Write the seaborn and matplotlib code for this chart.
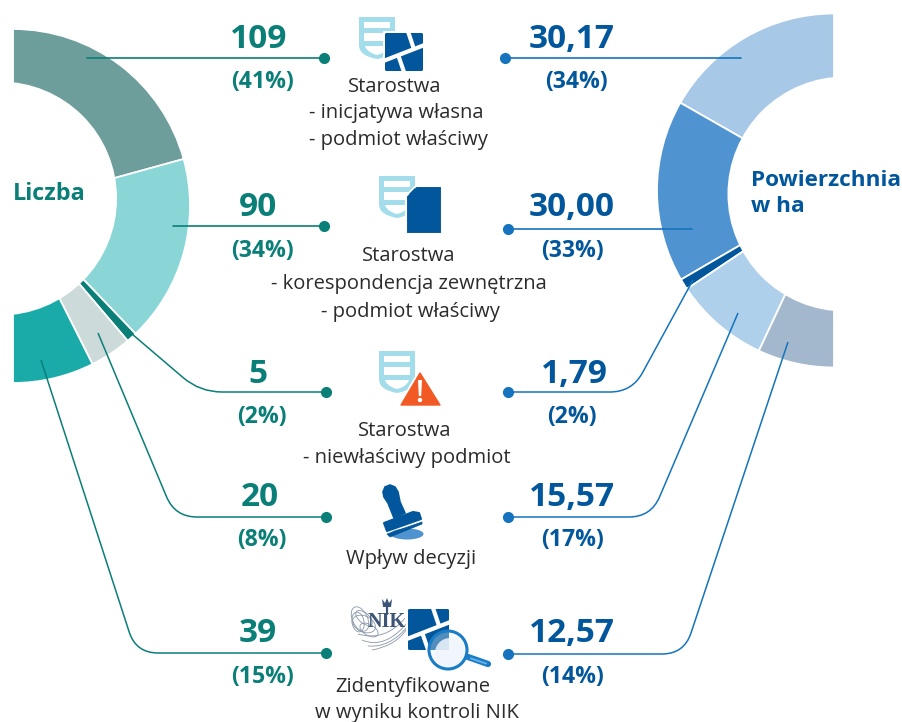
import matplotlib
matplotlib.use("Agg")
import matplotlib.pyplot as plt
import numpy as np
import seaborn as sns
from matplotlib.patches import Circle, Ellipse, FancyBboxPatch, PathPatch, Polygon, Rectangle
from matplotlib.path import Path

count_values = [109, 90, 5, 20, 39]
count_pct = ["(41%)", "(34%)", "(2%)", "(8%)", "(15%)"]
area_values = [30.17, 30.00, 1.79, 15.57, 12.57]
area_pct = ["(34%)", "(33%)", "(2%)", "(17%)", "(14%)"]
count_colors = ["#6d9e9b", "#8ad5d6", "#0a7f78", "#ccdada", "#1aaba9"]
area_colors = ["#a7c8e7", "#4f93d0", "#02579c", "#aed0ea", "#a3b8cd"]
captions = [
    ["Starostwa", "- inicjatywa własna", "- podmiot właściwy"],
    ["Starostwa", "- korespondencja zewnętrzna", "- podmiot właściwy"],
    ["Starostwa", "- niewłaściwy podmiot"],
    ["Wpływ decyzji"],
    ["Zidentyfikowane", "w wyniku kontroli NIK"],
]

TEAL = "#0a7f78"
BLUE = "#02579c"
LINE_BLUE = "#1574bd"
DARK = "#2b2b2b"
SHIELD = "#a3dcea"

sns.set_theme(style="white")
plt.rcParams["font.family"] = ["Open Sans", "DejaVu Sans"]

fig = plt.figure(figsize=(9.02, 7.22), dpi=100)
ax = fig.add_axes([0, 0, 1, 1])


def half_donut(values, colors, center, radius, hole_center, hole_radius, clockwise):
    # second half of the pie stays hidden, only the half ring is shown
    wedges, _ = ax.pie(list(values) + [sum(values)], colors=colors + ["white"],
                       center=center, radius=radius, startangle=-90,
                       counterclock=clockwise, frame=True,
                       wedgeprops={"edgecolor": "white", "linewidth": 1.3})
    wedges[-1].set_visible(False)
    ax.add_patch(Circle(hole_center, hole_radius, fc="white", ec="none", zorder=2))


half_donut(count_values, count_colors, (13, 206), 177, (0, 198.5), 117, True)
half_donut(area_values, area_colors, (834, 190.5), 177, (845, 194), 117.5, False)

# y axis runs down so everything below is in image pixels
ax.set_xlim(0, 902)
ax.set_ylim(722, 0)
ax.set_aspect("equal")
ax.axis("off")


def leader(start, corner, end, color, before=22, after=22):
    s, c, e = np.array(start, float), np.array(corner, float), np.array(end, float)
    a = c + (s - c) / np.linalg.norm(s - c) * before
    b = c + (e - c) / np.linalg.norm(e - c) * after
    path = Path([s, a, c, b, e], [Path.MOVETO, Path.LINETO, Path.CURVE3, Path.CURVE3, Path.LINETO])
    ax.add_patch(PathPatch(path, fc="none", ec=color, lw=1.1, zorder=4))
    ax.plot(*end, "o", color=color, ms=7, zorder=5)


def straight(start, end, color):
    ax.plot([start[0], end[0]], [start[1], end[1]], color=color, lw=1.2, zorder=4)
    ax.plot(*end, "o", color=color, ms=7, zorder=5)


straight((87, 58), (324, 58), TEAL)
straight((173, 226), (324, 226), TEAL)
leader((132, 334), (200, 392), (326, 392), TEAL)
leader((98, 333), (175, 517), (326, 517), TEAL)
leader((41, 360), (136, 653), (326, 653), TEAL)
straight((741, 58), (505, 58), LINE_BLUE)
straight((692, 229), (508, 229), LINE_BLUE)
leader((693, 280), (632, 392), (508, 392), LINE_BLUE)
leader((738, 313), (651, 517), (508, 517), LINE_BLUE)
leader((788, 342), (684, 654), (508, 654), LINE_BLUE)

# numbers next to the rings
count_x = [259, 258, 258, 260, 258]
count_pct_x = [262, 262, 262, 262, 262]
area_x = [572, 572, 574, 572, 572]
area_pct_x = [576, 572, 572, 572, 572]
number_y = [39.5, 207.5, 374.5, 497.5, 633.5]
pct_y = [82, 251, 417, 540, 677]
for i in range(5):
    ax.text(count_x[i], number_y[i], str(count_values[i]), color=TEAL, fontsize=24,
            fontweight="bold", ha="center", va="center")
    ax.text(count_pct_x[i], pct_y[i], count_pct[i], color=TEAL, fontsize=16.6,
            fontweight="bold", ha="center", va="center")
    ax.text(area_x[i], number_y[i], f"{area_values[i]:.2f}".replace(".", ","), color=BLUE,
            fontsize=24, fontweight="bold", ha="center", va="center")
    ax.text(area_pct_x[i], pct_y[i], area_pct[i], color=BLUE, fontsize=16.6,
            fontweight="bold", ha="center", va="center")

caption_x = [[395, 396, 398], [409, 409, 410], [405, 407], [411], [413, 417]]
caption_y = [[87, 113, 140], [256, 284, 312], [431, 458], [559], [687, 713]]
for lines, xs, ys in zip(captions, caption_x, caption_y):
    for line, x, y in zip(lines, xs, ys):
        ax.text(x, y, line, color=DARK, fontsize=14.5, ha="center", va="center")

ax.text(13, 194, "Liczba", color=TEAL, fontsize=16.8, fontweight="bold", va="center", zorder=6)
ax.text(751, 180, "Powierzchnia", color=BLUE, fontsize=16.2, fontweight="bold", va="center", zorder=6)
ax.text(751, 207, "w ha", color=BLUE, fontsize=16.2, fontweight="bold", va="center", zorder=6)


def shield(x, y):
    def outline(l, t, r, b):
        mid = (l + r) / 2
        verts = [(l, t), (r, t), (r, b - 14), (r, b - 3), (mid, b), (l, b - 3), (l, b - 14), (l, t)]
        codes = [Path.MOVETO, Path.LINETO, Path.LINETO, Path.CURVE3, Path.CURVE3, Path.CURVE3, Path.CURVE3, Path.CLOSEPOLY]
        return Path(verts, codes)
    ax.add_patch(PathPatch(outline(x, y, x + 36, y + 42), fc=SHIELD, ec="none"))
    ax.add_patch(PathPatch(outline(x + 5, y + 5, x + 31, y + 38), fc="white", ec="none"))
    ax.add_patch(Rectangle((x, y + 11), 36, 5, fc=SHIELD, ec="none"))
    ax.add_patch(Rectangle((x, y + 24), 36, 5, fc=SHIELD, ec="none"))


def cut(p, q, lw=3):
    ax.plot([p[0], q[0]], [p[1], q[1]], color="white", lw=lw, solid_capstyle="butt", zorder=3)


def map_square(x, y, w, h):
    ax.add_patch(Rectangle((x - 2, y - 2), w + 4, h + 4, fc="white", ec="none", zorder=2))
    ax.add_patch(FancyBboxPatch((x + 1, y + 1), w - 2, h - 2, boxstyle="round,pad=1,rounding_size=1.5",
                                fc=BLUE, ec="none", zorder=2.5))
    cut((x - 1, y + 0.73 * h), (x + w + 1, y + 0.32 * h))
    cut((x + 0.61 * w, y - 1), (x + 0.76 * w, y + 0.42 * h))
    cut((x + 0.36 * w, y + 0.62 * h), (x + 0.5 * w, y + h + 1))


# icon 1
shield(359, 17)
map_square(385, 33, 38, 38)

# icon 2
shield(379, 176)
ax.add_patch(Polygon([(416, 186), (442, 186), (442, 234), (406, 234), (406, 196)],
                     fc=BLUE, ec="white", lw=1.5, zorder=3))
ax.add_patch(Polygon([(415, 188), (415, 194), (409, 194)], fc=BLUE, ec="none", zorder=3))

# icon 3
shield(379, 351)
ax.add_patch(Polygon([(420, 368), (445, 408), (396, 408)], fc="white", ec="none", zorder=3))
ax.add_patch(Polygon([(420, 373), (440, 405), (401, 405)], fc="#f15a24", ec="#f15a24", lw=1,
                     joinstyle="round", zorder=3))
ax.add_patch(Polygon([(418, 380), (422, 380), (421.2, 396), (418.8, 396)], fc="white", ec="none", zorder=4))
ax.add_patch(Circle((420, 400), 2.2, fc="white", ec="none", zorder=4))

# icon 4, stamp
ax.add_patch(Ellipse((407, 534), 33, 11, fc="#4f93d0", ec="none"))
ax.add_patch(Polygon([(383, 492), (385, 487), (390, 485), (395, 487), (398, 492), (400, 502), (405, 513),
                      (394, 518), (388, 503), (384, 497)], fc=BLUE, ec=BLUE, lw=1.2,
                     joinstyle="round", zorder=3))
ax.add_patch(Polygon([(384, 523), (413, 512), (419, 513), (421, 519), (387, 531)], fc=BLUE, ec=BLUE,
                     lw=1.5, joinstyle="round", zorder=3))
ax.add_patch(Polygon([(387, 534), (422, 522), (422, 524), (390, 537)], fc=BLUE, ec=BLUE, lw=0.5,
                     joinstyle="round", zorder=3))

# icon 5, NIK mark with swirls, map and magnifier
swirls = [(360, 619, 15, 26, -25), (364, 624, 24, 16, 25), (358, 622, 12, 20, -10),
          (369, 630, 20, 11, 30), (364, 618, 20, 10, 40)]
for sx, sy, sw, sh, sa in swirls:
    ax.add_patch(Ellipse((sx, sy), sw, sh, angle=sa, fc="none", ec="#8a97a8", lw=0.6))
tails = [((362, 640), (385, 650), (408, 622)), ((368, 646), (390, 648), (408, 626)),
         ((372, 650), (395, 646), (406, 630)), ((358, 634), (385, 642), (405, 618))]
for p0, p1, p2 in tails:
    ax.add_patch(PathPatch(Path([p0, p1, p2], [Path.MOVETO, Path.CURVE3, Path.CURVE3]),
                           fc="none", ec="#8a97a8", lw=0.6))
ax.text(387, 622, "NIK", color="#3d5575", fontsize=14.5, family="Liberation Serif",
        fontweight="bold", ha="center", va="center", zorder=3)
ax.add_patch(Polygon([(382, 599), (385, 603), (387, 598), (389, 603), (392, 599), (391, 607), (383, 607)],
                     fc="#3d5575", ec="none"))
ax.plot([387, 387], [607, 614], color="#3d5575", lw=1.6)
map_square(408, 609, 41, 41)
ax.plot([468, 488], [657, 664], color="#1a7cc6", lw=4.5, solid_capstyle="round", zorder=4)
ax.plot([471, 486], [658.5, 663.5], color="#5cb0e6", lw=1.5, solid_capstyle="round", zorder=4)
ax.add_patch(Circle((448, 650), 19, fc="#e8f2fb", alpha=0.35, ec="none", zorder=4))
ax.add_patch(Circle((450, 653), 15, fc="#f0f6fc", alpha=0.85, ec="none", zorder=4))
ax.add_patch(Circle((448, 650), 19, fc="none", ec="#1a7cc6", lw=2.2, zorder=5))

fig.savefig("out.png", dpi=100)
